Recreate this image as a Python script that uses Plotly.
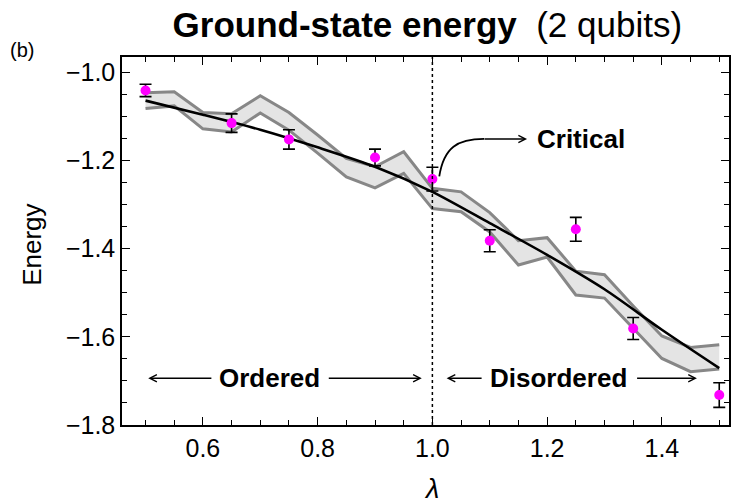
import plotly.graph_objects as go

# ---------------- data ----------------
lam_band = [0.50, 0.55, 0.60, 0.65, 0.70, 0.75, 0.80, 0.85, 0.90, 0.95, 1.00,
            1.05, 1.10, 1.15, 1.20, 1.25, 1.30, 1.35, 1.40, 1.45, 1.50]
band_upper = [-1.046, -1.044, -1.091, -1.094, -1.053, -1.091, -1.142, -1.195, -1.214, -1.180, -1.263,
              -1.271, -1.318, -1.382, -1.375, -1.451, -1.459, -1.530, -1.598, -1.624, -1.618]
band_lower = [-1.082, -1.076, -1.128, -1.135, -1.092, -1.131, -1.183, -1.237, -1.262, -1.229, -1.309,
              -1.316, -1.362, -1.437, -1.419, -1.505, -1.512, -1.580, -1.649, -1.679, -1.673]

lam_exact = [0.5, 0.6, 0.7, 0.8, 0.9, 1.0, 1.1, 1.2, 1.3, 1.4, 1.5]
energy_exact = [-1.064, -1.096, -1.130, -1.170, -1.214, -1.271, -1.342, -1.414, -1.492, -1.584, -1.671]

lam_meas = [0.5, 0.65, 0.75, 0.9, 1.0, 1.1, 1.25, 1.35, 1.5]
energy_meas = [-1.041, -1.115, -1.152, -1.193, -1.242, -1.382, -1.356, -1.581, -1.732]
energy_err = [0.014, 0.021, 0.022, 0.019, 0.027, 0.025, 0.027, 0.025, 0.028]

x_tick_vals = [0.6, 0.8, 1.0, 1.2, 1.4]
x_tick_text = ["0.6", "0.8", "1.0", "1.2", "1.4"]
y_tick_vals = [-1.8, -1.6, -1.4, -1.2, -1.0]
y_tick_text = ["\u22121.8", "\u22121.6", "\u22121.4", "\u22121.2", "\u22121.0"]

critical_lam = 1.0

FONT = "Liberation Sans, Arial, Helvetica, sans-serif"

fig = go.Figure()

# shaded band
fig.add_trace(go.Scatter(x=lam_band, y=band_upper, mode="lines",
                         line=dict(color="rgb(135,135,135)", width=3),
                         hoverinfo="skip"))
fig.add_trace(go.Scatter(x=lam_band, y=band_lower, mode="lines",
                         line=dict(color="rgb(135,135,135)", width=3),
                         fill="tonexty", fillcolor="rgb(228,228,228)",
                         hoverinfo="skip"))
# exact curve
fig.add_trace(go.Scatter(x=lam_exact, y=energy_exact, mode="lines",
                         line=dict(color="black", width=2.6, shape="spline", smoothing=0.8)))
# measured points
fig.add_trace(go.Scatter(x=lam_meas, y=energy_meas, mode="markers",
                         marker=dict(color="#ff00ff", size=10),
                         error_y=dict(type="data", array=energy_err, visible=True,
                                      color="black", thickness=1.6, width=6)))

axis_common = dict(showgrid=False, zeroline=False, showline=True, linecolor="black",
                   linewidth=1.5, mirror="allticks", ticks="inside", ticklen=8,
                   tickwidth=1.2, tickcolor="black",
                   tickfont=dict(family=FONT, size=25, color="black"))

fig.update_xaxes(range=[0.459, 1.517], tickvals=x_tick_vals, ticktext=x_tick_text,
                 minor=dict(dtick=0.05, tick0=0.0, ticks="inside", ticklen=5,
                            tickwidth=1, tickcolor="black"),
                 **axis_common)
fig.update_yaxes(range=[-1.8, -0.965], tickvals=y_tick_vals, ticktext=y_tick_text,
                 minor=dict(dtick=0.05, tick0=0.0, ticks="inside", ticklen=5,
                            tickwidth=1, tickcolor="black"),
                 **axis_common)

# dotted critical line
fig.add_shape(type="line", xref="x", yref="paper", x0=critical_lam, x1=critical_lam,
              y0=0, y1=1, line=dict(color="black", width=1.5, dash="dot"), layer="above")

# curved arrow to "Critical"
fig.add_shape(type="path", xref="x", yref="y",
              path="M 1.012,-1.236 C 1.020,-1.170 1.044,-1.151 1.09,-1.151",
              line=dict(color="black", width=1.8), layer="above")

annotations = []
def arrow(x_head, x_tail, y):
    annotations.append(dict(x=x_head, y=y, ax=x_tail, ay=y, xref="x", yref="y",
                            axref="x", ayref="y", text="", showarrow=True,
                            arrowhead=5, arrowsize=1, arrowwidth=1.4,
                            arrowcolor="black", standoff=0, startstandoff=0))

arrow(1.165, 1.088, -1.151)
y_reg = -1.694
arrow(0.5047, 0.6174, y_reg)
arrow(0.9815, 0.8168, y_reg)
arrow(1.0248, 1.0884, y_reg)
arrow(1.4611, 1.3542, y_reg)

text_font = dict(family=FONT, size=26, color="black")
def label(x, y, text, font, xref="x", yref="y", angle=0):
    annotations.append(dict(x=x, y=y, xref=xref, yref=yref, text=text, showarrow=False,
                            font=font, xanchor="center", yanchor="middle",
                            textangle=angle))

label(0.7157, y_reg, "<b>Ordered</b>", text_font)
label(1.2198, y_reg, "<b>Disordered</b>", text_font)
label(1.2589, -1.152, "<b>Critical</b>", text_font)
label(-0.164, 1.019, "(b)", dict(family=FONT, size=20, color="black"), "paper", "paper")
label(-0.148, 0.49, "Energy", dict(family=FONT, size=26, color="black"), "paper", "paper", -90)
label(0.5107, -0.175, "<i>λ</i>", dict(family=FONT, size=27, color="black"), "paper", "paper")

fig.update_layout(
    width=733, height=503,
    margin=dict(l=122, r=2, t=57, b=77.5),
    paper_bgcolor="white", plot_bgcolor="white",
    showlegend=False,
    title=dict(text="<b>Ground-state energy</b>&nbsp;&nbsp;(2 qubits)",
               x=0.583, xref="container", xanchor="center",
               y=0.95, yref="container", yanchor="middle",
               font=dict(family=FONT, size=35, color="black")),
    annotations=annotations,
)

fig.write_html("out.html")
